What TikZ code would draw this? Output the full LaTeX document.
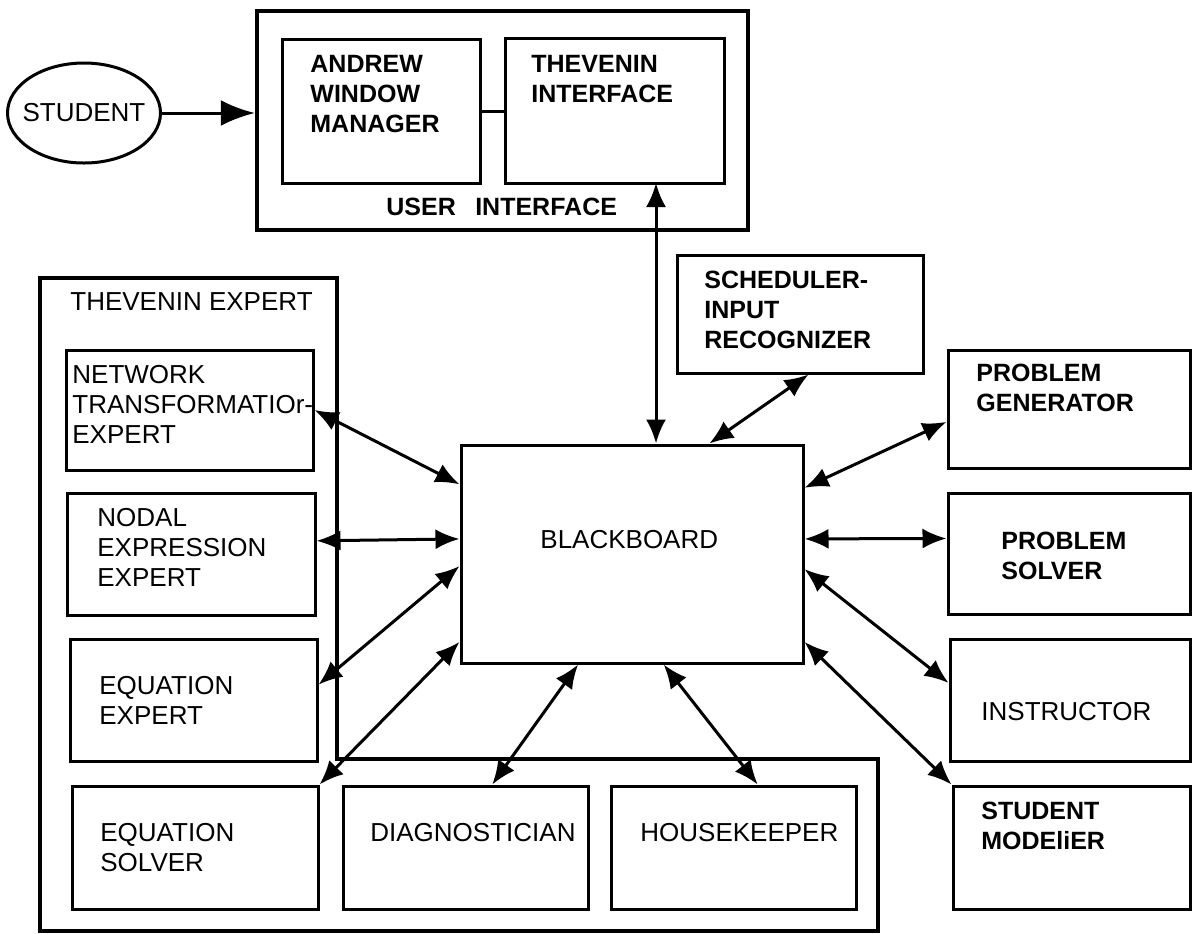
\documentclass[tikz,border=0pt]{standalone}
\usepackage{fontspec}
\setmainfont{Liberation Sans}
\usetikzlibrary{shapes.geometric,arrows.meta}

\begin{document}
\begin{tikzpicture}
    \def\dx{0.5pt}
    \def\dy{-0.5pt}

    \tikzstyle{box}=[draw=black,line width=1.5pt,inner sep=0pt]
    \tikzstyle{frame}=[draw=black,line width=2.2pt,inner sep=0pt]
    \tikzstyle{plain}=[font=\fontsize{13}{15}\selectfont,align=left,anchor=base west,inner sep=0pt]
    \tikzstyle{heavy}=[font=\bfseries\fontsize{12.5}{15}\selectfont,align=left,anchor=base west,inner sep=0pt]

    \useasboundingbox (0,0) rectangle (1193*\dx,933*\dy);

    % user interface (text nodes sit on the baseline of their last line)
    \node[draw,ellipse,line width=1.5pt,minimum width=153*\dx,minimum height=100*\dx,inner ysep=0pt,inner xsep=-4pt,
          font=\fontsize{13}{15}\selectfont]  (student) at (84*\dx,113*\dy) {STUDENT};
    \node[frame,minimum width=491*\dx,minimum height=219*\dx]  (ui) at (502.5*\dx,120.5*\dy) {};
    \node[box,minimum width=198*\dx,minimum height=144*\dx]  (andrew) at (381*\dx,111*\dy) {};
    \node[box,minimum width=219*\dx,minimum height=145*\dx]  (ti) at (614.5*\dx,110.5*\dy) {};
    \node[heavy]  (andrewtext) at (310*\dx,132*\dy) {ANDREW\\WINDOW\\MANAGER};
    \node[heavy]  (titext) at (531*\dx,102*\dy) {THEVENIN\\INTERFACE};
    \node[heavy]  (uitext) at (386*\dx,215*\dy) {USER\hspace{0.5em} INTERFACE};
    \coordinate (tiport) at (656*\dx,183*\dy);

    % thevenin expert
    \draw[frame] (40*\dx,278*\dy) -- (337*\dx,278*\dy) -- (337*\dx,759*\dy) -- (878*\dx,759*\dy)
                 -- (878*\dx,931*\dy) -- (40*\dx,931*\dy) -- cycle;
    \node[plain]  (tetext) at (70*\dx,310*\dy) {THEVENIN EXPERT};
    \node[box,minimum width=247*\dx,minimum height=120*\dx]  (net) at (189.5*\dx,410*\dy) {};
    \node[box,minimum width=248*\dx,minimum height=122*\dx]  (nodal) at (191*\dx,554*\dy) {};
    \node[box,minimum width=247*\dx,minimum height=122*\dx]  (eqx) at (193.5*\dx,700*\dy) {};
    \node[box,minimum width=246*\dx,minimum height=123*\dx]  (eqs) at (195*\dx,847.5*\dy) {};
    \node[box,minimum width=245*\dx,minimum height=123*\dx]  (diag) at (465.5*\dx,847.5*\dy) {};
    \node[box,minimum width=245*\dx,minimum height=123*\dx]  (house) at (733.5*\dx,847.5*\dy) {};
    \node[plain]  (nettext) at (72*\dx,443*\dy) {NETWORK\\TRANSFORMATIOr-\\EXPERT};
    \node[plain]  (nodaltext) at (97*\dx,586*\dy) {NODAL\\EXPRESSION\\EXPERT};
    \node[plain]  (eqxtext) at (99*\dx,724*\dy) {EQUATION\\EXPERT};
    \node[plain]  (eqstext) at (100*\dx,871*\dy) {EQUATION\\SOLVER};
    \node[plain]  (diagtext) at (370*\dx,841*\dy) {DIAGNOSTICIAN};
    \node[plain]  (housetext) at (640*\dx,841*\dy) {HOUSEKEEPER};

    % blackboard and the other modules
    \node[box,minimum width=342*\dx,minimum height=218*\dx]  (bb) at (632*\dx,554*\dy) {};
    \node[plain]  (bbtext) at (540*\dx,548*\dy) {BLACKBOARD};
    \node[box,minimum width=246*\dx,minimum height=118*\dx]  (sched) at (800*\dx,314*\dy) {};
    \node[box,minimum width=242*\dx,minimum height=118*\dx]  (pg) at (1069*\dx,409*\dy) {};
    \node[box,minimum width=242*\dx,minimum height=121*\dx]  (ps) at (1069*\dx,553.5*\dy) {};
    \node[box,minimum width=240*\dx,minimum height=122*\dx]  (instr) at (1070*\dx,700*\dy) {};
    \node[box,minimum width=237*\dx,minimum height=123*\dx]  (sm) at (1071.5*\dx,847.5*\dy) {};
    \node[heavy]  (schedtext) at (704*\dx,348*\dy) {SCHEDULER-\\INPUT\\RECOGNIZER};
    \node[heavy]  (pgtext) at (976*\dx,411*\dy) {PROBLEM\\GENERATOR};
    \node[heavy]  (pstext) at (1001*\dx,579*\dy) {PROBLEM\\SOLVER};
    \node[plain]  (instrtext) at (981*\dx,720*\dy) {INSTRUCTOR};
    \node[heavy]  (smtext) at (981*\dx,849*\dy) {STUDENT\\MODEliER};


    \tikzstyle{link} = [draw=black,line width=1.5pt,{Latex[length=12pt,width=10pt]}-{Latex[length=12pt,width=10pt]}]

          \draw [line width=1.5pt,-{Latex[length=17pt,width=13pt]}] (student.east) -- (student.east -| ui.west);
          \draw [line width=1.5pt] (andrew.east) -- (andrew.east -| ti.west);
          \draw [link] (tiport) -- (tiport |- bb.north);
          \draw [link] (net.east) -- (bb.158.6);
          \draw [link] (nodal.6) -- (bb.175.7);
          \draw [link] (eqx.7.4) -- (bb.184);
          \draw [link] (eqs.north east) -- (bb.207.5);
          \draw [link] (diag.67.5) -- (bb.244.5);
          \draw [link] (house.69.9) -- (bb.286.8);
          \draw [link] (sched.278) -- (bb.55.8);
          \draw [link] (pg.186.6) -- (bb.21.7);
          \draw [link] (ps.173.2) -- (bb.5);
          \draw [link] (instr.172.3) -- (bb.355.3);
          \draw [link] (sm.north west) -- (bb.333);
  \end{tikzpicture}
\end{document}
